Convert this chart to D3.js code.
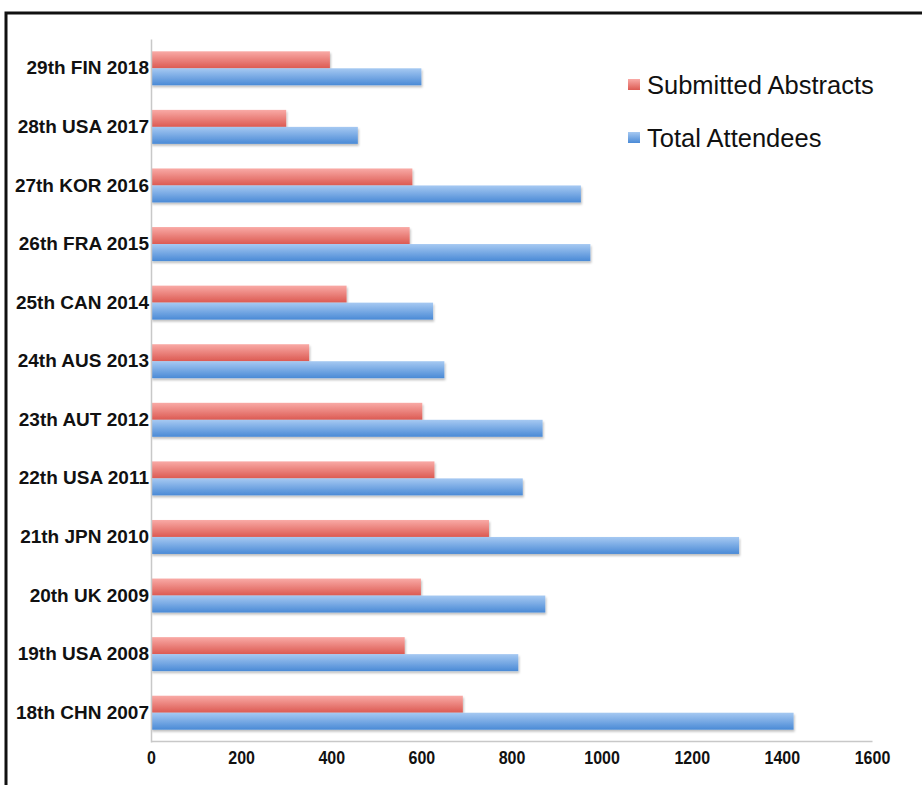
<!DOCTYPE html>
<html><head><meta charset="utf-8">
<script src="https://cdn.jsdelivr.net/npm/d3@7"></script>
<style>body{margin:0;background:#fff;}svg{display:block;}</style>
</head><body>
<script>
const categories = ["29th FIN 2018","28th USA 2017","27th KOR 2016","26th FRA 2015","25th CAN 2014","24th AUS 2013","23th AUT 2012","22th USA 2011","21th JPN 2010","20th UK 2009","19th USA 2008","18th CHN 2007"];
const submittedAbstracts = [397,300,580,574,434,351,602,629,750,599,563,692];
const totalAttendees = [600,459,954,975,626,651,869,825,1305,875,815,1426];
const seriesNames = ["Submitted Abstracts","Total Attendees"];
const xTicks = [0,200,400,600,800,1000,1200,1400,1600];

const W=922,H=785;
const svg=d3.select("body").append("svg").attr("width",W).attr("height",H);
const defs=svg.append("defs");
const gr=defs.append("linearGradient").attr("id","gRed").attr("x1",0).attr("y1",0).attr("x2",0).attr("y2",1);
gr.append("stop").attr("offset","0%").attr("stop-color","#f9aaa6");
gr.append("stop").attr("offset","100%").attr("stop-color","#dc5a52");
const gb=defs.append("linearGradient").attr("id","gBlue").attr("x1",0).attr("y1",0).attr("x2",0).attr("y2",1);
gb.append("stop").attr("offset","0%").attr("stop-color","#a6c9f2");
gb.append("stop").attr("offset","100%").attr("stop-color","#4a8ad6");
const f=defs.append("filter").attr("id","sh").attr("x","-5%").attr("y","-30%").attr("width","110%").attr("height","180%");
f.append("feDropShadow").attr("dx",1).attr("dy",2).attr("stdDeviation",1.2).attr("flood-color","#000").attr("flood-opacity",0.25);

// frame
svg.append("rect").attr("x",6).attr("y",13).attr("width",940).attr("height",800)
  .attr("fill","none").attr("stroke","#111").attr("stroke-width",3);

const x=d3.scaleLinear().domain([0,1600]).range([151,872]);
const y=d3.scaleBand().domain(categories).range([39,742]).paddingInner(0.42).paddingOuter(0.21);
const sub=d3.scaleBand().domain(seriesNames).range([0,y.bandwidth()]);

const data=categories.map((c,i)=>({c,vals:[submittedAbstracts[i],totalAttendees[i]]}));
const fills=["url(#gRed)","url(#gBlue)"];
const g=svg.append("g");
data.forEach(d=>{
  d.vals.forEach((v,j)=>{
    g.append("rect").attr("x",x(0)).attr("y",y(d.c)+sub(seriesNames[j]))
      .attr("width",x(v)-x(0)).attr("height",sub.bandwidth())
      .attr("fill",fills[j]).attr("filter","url(#sh)");
  });
});

// axes
const xa=svg.append("g").attr("transform","translate(0,741)")
  .call(d3.axisBottom(x).tickValues(xTicks).tickSize(0).tickPadding(9).tickFormat(d3.format("d")));
xa.select(".domain").attr("stroke","#c8c8c8").attr("stroke-width",1.5);
xa.selectAll("text").attr("font-family","Liberation Sans, Arial, sans-serif").attr("font-weight","bold")
  .attr("font-size","16px").attr("fill","#111").attr("transform","scale(1,1.15)");

const ya=svg.append("g").attr("transform","translate(151,0)")
  .call(d3.axisLeft(y).tickSize(0).tickPadding(2));
ya.select(".domain").attr("stroke","#c8c8c8").attr("stroke-width",1.5);
ya.selectAll("text").attr("font-family","Liberation Sans, Arial, sans-serif").attr("font-weight","bold")
  .attr("font-size","19px").attr("fill","#111");

// legend
const lg=svg.append("g");
seriesNames.forEach((n,i)=>{
  const ly=85+i*53;
  lg.append("rect").attr("x",628).attr("y",ly-6).attr("width",12).attr("height",11).attr("fill",fills[i]);
  lg.append("text").attr("x",647).attr("y",ly+9).text(n)
    .attr("font-family","Liberation Sans, Arial, sans-serif").attr("font-size","25.5px").attr("fill","#111");
});
</script>
</body></html>
